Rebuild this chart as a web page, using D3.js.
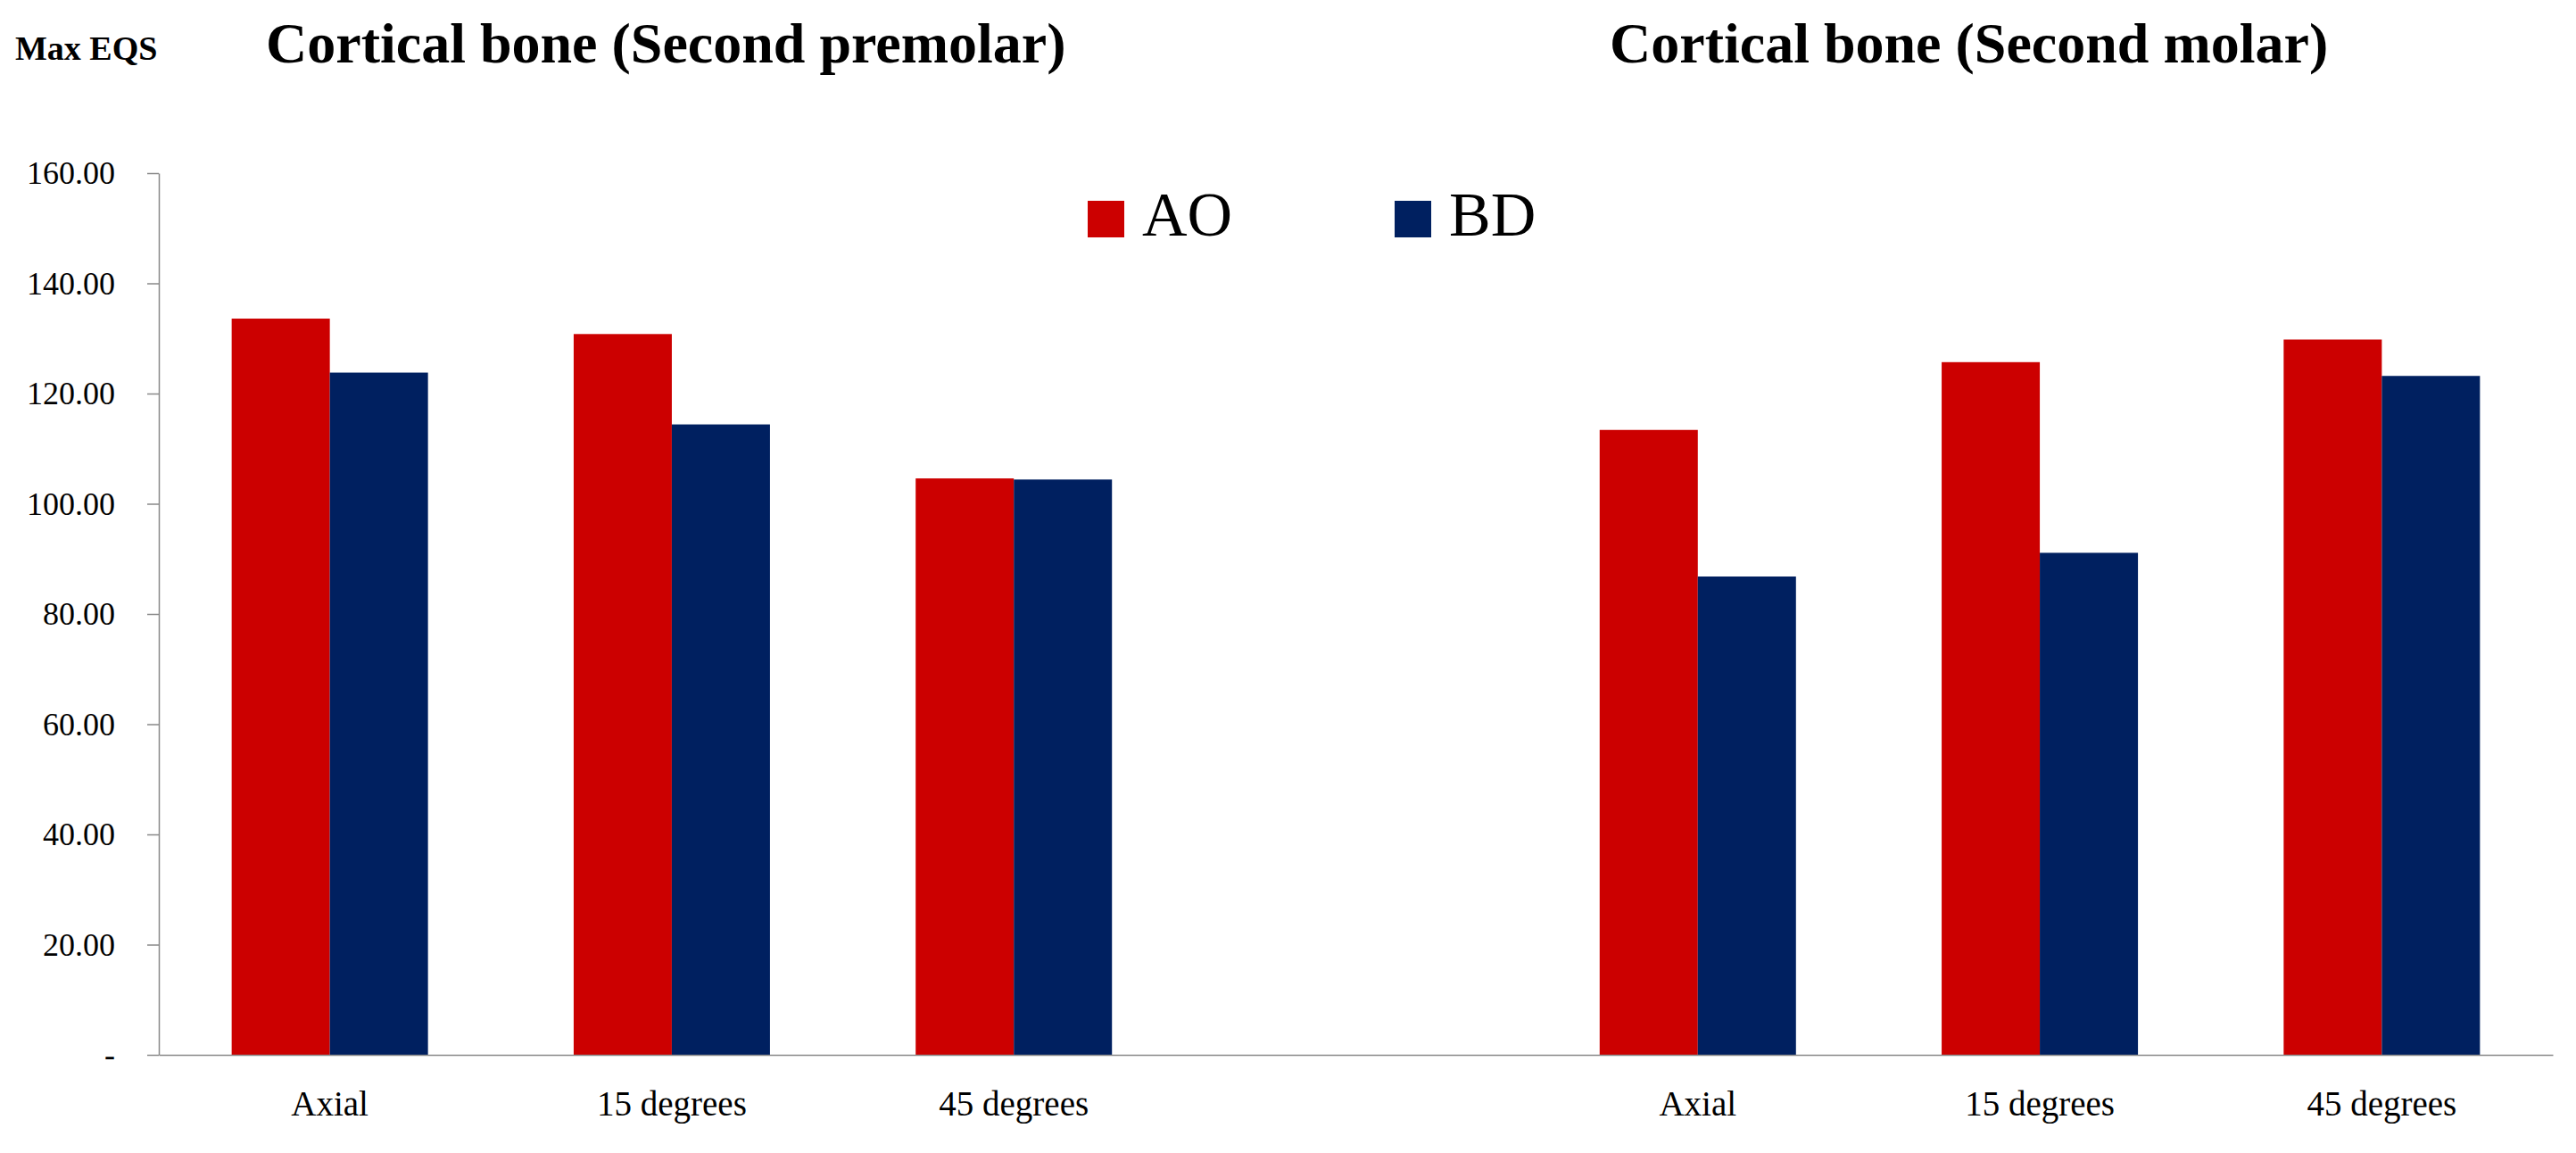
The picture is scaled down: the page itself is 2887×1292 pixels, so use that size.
<!DOCTYPE html>
<html>
<head>
<meta charset="utf-8">
<script src="https://cdn.jsdelivr.net/npm/d3@7"></script>
<style>
  body { margin: 0; background: #fff; }
  svg { display: block; font-family: "Palatino Linotype", "Book Antiqua", Palatino, "Liberation Serif", serif; }
</style>
</head>
<body>
<div id="chart"></div>
<script>
// slots on the category axis (the 4th one is the empty gap between the two panels)
const slots = ["pm-axial", "pm-15", "pm-45", "gap", "m-axial", "m-15", "m-45"];
const tickLabels = ["Axial", "15 degrees", "45 degrees", "", "Axial", "15 degrees", "45 degrees"];
const seriesNames = ["AO", "BD"];
const aoValues = [133.6, 130.8, 104.6, null, 113.4, 125.7, 129.8];
const bdValues = [123.8, 114.4, 104.4, null, 86.8, 91.1, 123.2];
const yTicks = [0, 20, 40, 60, 80, 100, 120, 140, 160];
const titles = ["Cortical bone (Second premolar)", "Cortical bone (Second molar)"];
const yLabel = "Max EQS";

const colors = { AO: "#cc0000", BD: "#002060" };
const axisColor = "#898989";
const serif = '"Palatino Linotype", "Book Antiqua", Palatino, "Liberation Serif", serif';

const width = 2887;
const height = 1292;
const margin = { top: 194, right: 26, bottom: 110, left: 178 };

const svg = d3.select("#chart").append("svg")
    .attr("width", width)
    .attr("height", height)
    .attr("viewBox", [0, 0, width, height]);

svg.append("rect").attr("width", width).attr("height", height).attr("fill", "#fff");

const x0 = d3.scaleBand()
    .domain(slots)
    .range([margin.left, width - margin.right])
    .paddingInner(0.426)
    .paddingOuter(0.213);

const x1 = d3.scaleBand()
    .domain(seriesNames)
    .range([0, x0.bandwidth()]);

const y = d3.scaleLinear()
    .domain([0, 160])
    .range([height - margin.bottom, margin.top]);

const rows = slots.map((s, i) => ({ slot: s, AO: aoValues[i], BD: bdValues[i] }));

// bars
svg.append("g")
  .selectAll("g")
  .data(rows.filter(d => d.AO != null))
  .join("g")
    .attr("transform", d => `translate(${x0(d.slot)},0)`)
  .selectAll("rect")
  .data(d => seriesNames.map(k => ({ key: k, value: d[k] })))
  .join("rect")
    .attr("x", d => x1(d.key))
    .attr("y", d => y(d.value))
    .attr("width", x1.bandwidth())
    .attr("height", d => y(0) - y(d.value))
    .attr("fill", d => colors[d.key]);

// y axis
const yAxis = svg.append("g")
    .attr("transform", `translate(${margin.left},0)`)
    .call(d3.axisLeft(y)
        .tickValues(yTicks)
        .tickSize(13)
        .tickSizeOuter(0)
        .tickPadding(36)
        .tickFormat(d => d === 0 ? "-" : d3.format(".2f")(d)))
    .attr("font-family", serif)
    .attr("font-size", 36);

yAxis.select(".domain").attr("stroke", axisColor).attr("stroke-width", 1.5);
yAxis.selectAll(".tick line").attr("stroke", axisColor).attr("stroke-width", 1.5);
yAxis.selectAll(".tick text").attr("fill", "#000");

// x axis
const xAxis = svg.append("g")
    .attr("transform", `translate(0,${y(0)})`)
    .call(d3.axisBottom(x0)
        .tickSize(0)
        .tickPadding(40)
        .tickFormat((d, i) => tickLabels[i]))
    .attr("font-family", serif)
    .attr("font-size", 39);

xAxis.select(".domain").attr("stroke", axisColor).attr("stroke-width", 1.5);
xAxis.selectAll(".tick text").attr("fill", "#000");

// axis label
svg.append("text")
    .attr("x", 17)
    .attr("y", 67)
    .attr("font-weight", "bold")
    .attr("font-size", 38)
    .text(yLabel);

// panel titles
svg.append("g")
  .selectAll("text")
  .data(titles)
  .join("text")
    .attr("x", (d, i) => [298, 1804][i])
    .attr("y", 70)
    .attr("font-weight", "bold")
    .attr("font-size", 64)
    .text(d => d);

// legend
const legend = svg.append("g")
  .selectAll("g")
  .data(seriesNames)
  .join("g")
    .attr("transform", (d, i) => `translate(${1219 + i * 344},225)`);

legend.append("rect")
    .attr("width", 41)
    .attr("height", 41)
    .attr("fill", d => colors[d]);

legend.append("text")
    .attr("x", 61)
    .attr("y", 39)
    .attr("font-size", 70)
    .text(d => d);
</script>
</body>
</html>
